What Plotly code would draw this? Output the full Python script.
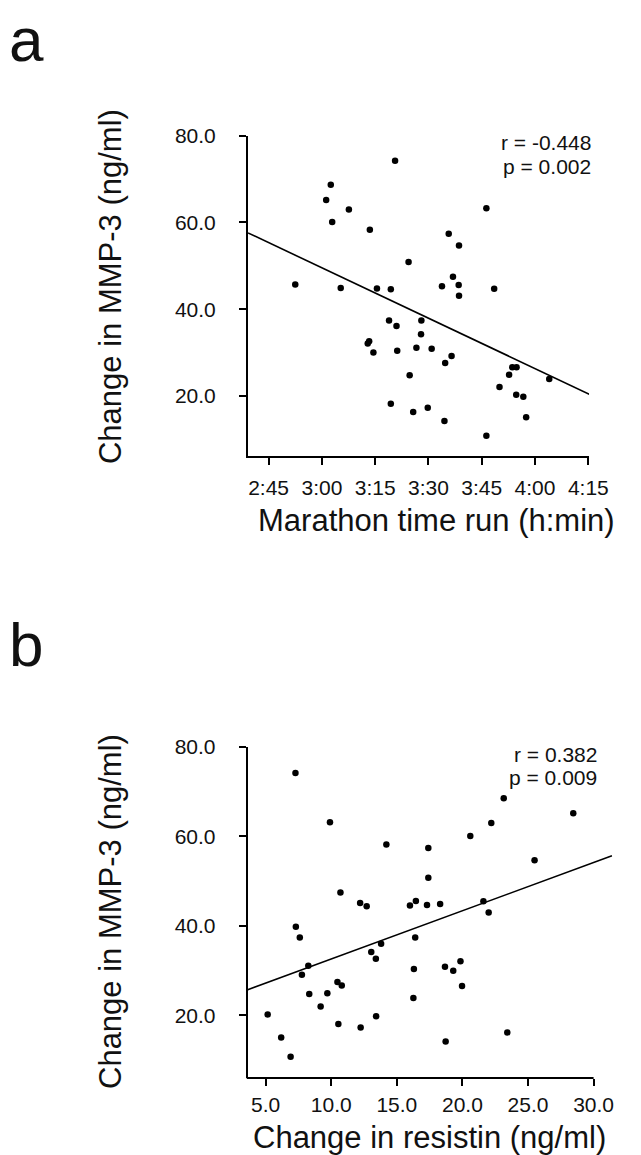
import plotly.graph_objects as go

# ---------------- data ----------------
# Panel a: marathon time (minutes) vs change in MMP-3 (ng/ml)
time_min = [200.6, 182.5, 181.2, 187.6, 182.9, 193.5, 226.3, 215.7, 218.6, 204.4,
            172.5, 185.3, 195.5, 199.4, 213.8, 216.9, 218.5, 218.6, 228.5, 259.4,
            198.9, 208.0, 201.0, 207.9, 193.3, 192.9, 194.5, 201.2, 206.6, 210.9,
            216.5, 214.7, 204.7, 233.6, 234.8, 232.7, 244.0, 230.0, 234.7, 236.7,
            237.5, 199.4, 205.7, 209.8, 214.5, 226.3]
mmp3_a = [74.2, 68.7, 65.2, 63.0, 60.1, 58.3, 63.3, 57.4, 54.7, 50.9,
          45.7, 44.9, 44.8, 44.6, 45.3, 47.5, 45.6, 43.1, 44.7, 39.9,
          37.4, 37.4, 36.1, 34.2, 32.6, 32.1, 30.0, 30.4, 31.1, 30.9,
          29.2, 27.6, 24.8, 26.6, 26.6, 24.9, 23.9, 22.05, 20.3, 19.8,
          15.1, 18.2, 16.3, 17.3, 14.2, 10.8]

# Panel b: change in resistin vs change in MMP-3
resistin = [7.27, 23.15, 28.45, 9.9, 22.2, 20.6, 14.2, 17.4, 25.5, 17.4,
            10.7, 12.2, 12.7, 16.0, 16.45, 17.3, 18.3, 21.6, 22.0, 7.3,
            7.6, 16.4, 13.8, 13.05, 13.4, 8.25, 7.76, 16.3, 18.67, 19.3,
            19.85, 10.47, 10.8, 19.97, 8.32, 9.7, 9.19, 16.26, 5.15, 13.42,
            10.54, 12.24, 23.42, 6.18, 18.72, 6.9]
mmp3_b = [74.2, 68.55, 65.2, 63.2, 63.0, 60.1, 58.2, 57.4, 54.7, 50.8,
          47.5, 45.15, 44.4, 44.6, 45.6, 44.7, 44.9, 45.5, 43.0, 39.8,
          37.4, 37.4, 36.0, 34.2, 32.7, 31.1, 29.1, 30.4, 30.9, 30.0,
          32.1, 27.5, 26.7, 26.6, 24.8, 24.95, 22.0, 23.9, 20.2, 19.8,
          18.1, 17.3, 16.2, 15.05, 14.2, 10.8]

# regression lines as drawn (intercept, slope, x extent)
fit_a_intercept, fit_a_slope = 119.26, -0.3873
fit_a_x = [159.2, 255.9]
fit_b_intercept, fit_b_slope = 21.84, 1.078
fit_b_x = [3.63, 31.4]

stats_a = ["r = -0.448", "p = 0.002"]
stats_b = ["r = 0.382", "p = 0.009"]

y_ticks = [20, 40, 60, 80]
y_ticktext = ["20.0", "40.0", "60.0", "80.0"]
time_ticks = [165, 180, 195, 210, 225, 240, 255]
time_ticktext = ["2:45", "3:00", "3:15", "3:30", "3:45", "4:00", "4:15"]
res_ticks = [5, 10, 15, 20, 25, 30]
res_ticktext = ["5.0", "10.0", "15.0", "20.0", "25.0", "30.0"]

# ---------------- layout helpers ----------------
W, H = 641, 1155
FONT = "Liberation Sans, Arial, Helvetica, sans-serif"
def px(x):
    return x / W
def py(y):
    return 1 - y / H

fig = go.Figure()
fig.add_trace(go.Scatter(x=time_min, y=mmp3_a, mode="markers",
                         marker=dict(color="black", size=6.5),
                         cliponaxis=False, xaxis="x", yaxis="y", showlegend=False))
fig.add_trace(go.Scatter(x=fit_a_x,
                         y=[fit_a_intercept + fit_a_slope * v for v in fit_a_x],
                         mode="lines", line=dict(color="black", width=1.6),
                         xaxis="x", yaxis="y", showlegend=False))
fig.add_trace(go.Scatter(x=resistin, y=mmp3_b, mode="markers",
                         marker=dict(color="black", size=6.5),
                         cliponaxis=False, xaxis="x2", yaxis="y2", showlegend=False))
fig.add_trace(go.Scatter(x=fit_b_x,
                         y=[fit_b_intercept + fit_b_slope * v for v in fit_b_x],
                         mode="lines", line=dict(color="black", width=1.6),
                         xaxis="x2", yaxis="y2", showlegend=False))

tickfont = dict(family=FONT, size=21, color="#111")
common = dict(showgrid=False, zeroline=False, ticks="outside", ticklen=7,
              tickwidth=1.8, tickcolor="black", linecolor="black", linewidth=2,
              tickfont=tickfont)

# panel b x axis extends to the end of the fit line; axis line drawn separately (ends at 30.0)
b_left_px, b_right_px = 255.7, 612.7
b_range = [3.63, 31.45]
b_end_px = b_left_px + (b_range[1] - b_range[0]) * (b_right_px - b_left_px) / (30 - b_range[0])

fig.update_layout(
    width=W, height=H, margin=dict(l=0, r=0, t=0, b=0, pad=0),
    paper_bgcolor="white", plot_bgcolor="white",
    xaxis=dict(domain=[px(256), px(608)], range=[159.2, 255.2], anchor="y",
               tickvals=time_ticks, ticktext=time_ticktext, showline=True,
               ticklabelstandoff=4, **common),
    yaxis=dict(domain=[py(449), py(125)], range=[6.08, 80], anchor="x",
               tickvals=y_ticks, ticktext=y_ticktext, showline=True,
               ticklabelstandoff=19, **common),
    xaxis2=dict(domain=[px(b_left_px), px(b_end_px)], range=b_range, anchor="y2",
                tickvals=res_ticks, ticktext=res_ticktext, showline=False,
                ticklabelstandoff=1, **common),
    yaxis2=dict(domain=[py(1077.3), py(742.7)], range=[6.0, 80], anchor="x2",
                tickvals=y_ticks, ticktext=y_ticktext, showline=True,
                ticklabelstandoff=19, **common),
)

fig.add_shape(type="line", xref="paper", yref="paper",
              x0=px(b_left_px - 1), x1=px(b_right_px), y0=py(1077.3), y1=py(1077.3),
              line=dict(color="black", width=2))

ann = []
def text(x, y, t, size, angle=0, xanchor="center", yanchor="middle"):
    ann.append(dict(x=px(x), y=py(y), xref="paper", yref="paper", text=t,
                    showarrow=False, textangle=angle, xanchor=xanchor, yanchor=yanchor,
                    font=dict(family=FONT, size=size, color="#111")))

text(7, 28, "a", 62, xanchor="left")
text(7, 639, "b", 62, xanchor="left")
text(114, 277.5, "Change in MMP-3 (ng/ml)", 31, angle=-90)
text(114, 909, "Change in MMP-3 (ng/ml)", 31, angle=-90)
text(451, 514, "Marathon time run (h:min)", 31)
text(443.5, 1137, "Change in resistin (ng/ml)", 31)
text(612, 132, stats_a[0], 21, xanchor="right")
text(612, 156, stats_a[1], 21, xanchor="right")
text(618, 750, stats_b[0], 21, xanchor="right")
text(618, 774, stats_b[1], 21, xanchor="right")
fig.update_layout(annotations=ann)

fig.write_html("out.html", config={"displayModeBar": False},
               post_script="document.documentElement.style.margin='0';"
                           "document.body.style.margin='0';"
                           "document.body.style.padding='0';"
                           "document.body.style.overflow='hidden';")
